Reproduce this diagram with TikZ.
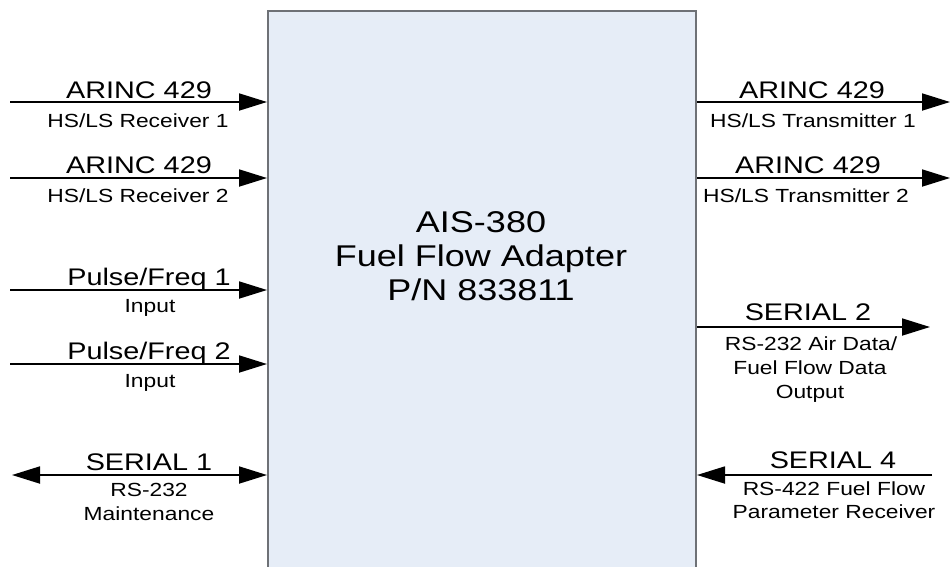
\documentclass[tikz,border=0pt]{standalone}
\usepackage{fontspec}
\newfontfamily\arialx[FakeStretch=1.2]{Liberation Sans}
\usetikzlibrary{arrows.meta}
\definecolor{boxfill}{HTML}{E6EDF7}
\definecolor{boxedge}{HTML}{6E7176}
\begin{document}
\begin{tikzpicture}[x=1pt,y=-1pt,
  tipshape/.tip={Triangle[length=28pt,width=17pt]},
  sig/.style={line width=1.8pt, -tipshape},
  bidir/.style={line width=1.8pt, tipshape-tipshape},
  big/.style={font=\arialx\fontsize{24}{28}\selectfont, inner sep=0pt, anchor=base},
  small/.style={font=\arialx\fontsize{19}{24}\selectfont, inner sep=0pt, anchor=base},
  title/.style={font=\arialx\fontsize{30}{34}\selectfont, inner sep=0pt, anchor=base},
]
\useasboundingbox (0,0) rectangle (952,566);
\begin{scope}
\clip (0,0) rectangle (952,566);
\node[draw=boxedge, fill=boxfill, line width=2pt, minimum width=428pt, minimum height=600pt, anchor=north west, inner sep=0pt] (box) at (267,10) {};
\end{scope}

% title
\node[title] (t1) at (481,232) {AIS-380};
\node[title] (t2) at (481,266) {Fuel Flow Adapter};
\node[title] (t3) at (481,300) {P/N 833811};

% left side
\coordinate (l1) at (10,102);
\coordinate (l2) at (10,178);
\coordinate (l3) at (10,290);
\coordinate (l4) at (10,364);
\coordinate (l5) at (12,475);
\draw[sig] (l1) -- (l1 -| box.west);
\draw[sig] (l2) -- (l2 -| box.west);
\draw[sig] (l3) -- (l3 -| box.west);
\draw[sig] (l4) -- (l4 -| box.west);
\draw[bidir] (l5) -- (l5 -| box.west);

\node[big] (l1a) at (139,98) {ARINC 429};
\node[small] (l1b) at (138,127) {HS/LS Receiver 1};
\node[big] (l2a) at (139,173) {ARINC 429};
\node[small] (l2b) at (138,202) {HS/LS Receiver 2};
\node[big] (l3a) at (149,285) {Pulse/Freq 1};
\node[small] (l3b) at (150,312) {Input};
\node[big] (l4a) at (149,359) {Pulse/Freq 2};
\node[small] (l4b) at (150,387) {Input};
\node[big] (l5a) at (149,470) {SERIAL 1};
\node[small] (l5b) at (149,496) {RS-232};
\node[small] (l5c) at (149,520) {Maintenance};

% right side
\coordinate (r1) at (950,102);
\coordinate (r2) at (950,178);
\coordinate (r3) at (930,327);
\coordinate (r4) at (932,475);
\draw[sig] (r1 -| box.east) -- (r1);
\draw[sig] (r2 -| box.east) -- (r2);
\draw[sig] (r3 -| box.east) -- (r3);
\draw[sig] (r4) -- (r4 -| box.east);

\node[big] (r1a) at (812,98) {ARINC 429};
\node[small] (r1b) at (813,127) {HS/LS Transmitter 1};
\node[big] (r2a) at (808,173) {ARINC 429};
\node[small] (r2b) at (806,202) {HS/LS Transmitter 2};
\node[big] (r3a) at (808,320) {SERIAL 2};
\node[small] (r3b) at (811,350) {RS-232 Air Data/};
\node[small] (r3c) at (810,374) {Fuel Flow Data};
\node[small] (r3d) at (810,398) {Output};
\node[big] (r4a) at (833,468) {SERIAL 4};
\node[small] (r4b) at (834,495) {RS-422 Fuel Flow};
\node[small] (r4c) at (834,518) {Parameter Receiver};
\end{tikzpicture}
\end{document}
